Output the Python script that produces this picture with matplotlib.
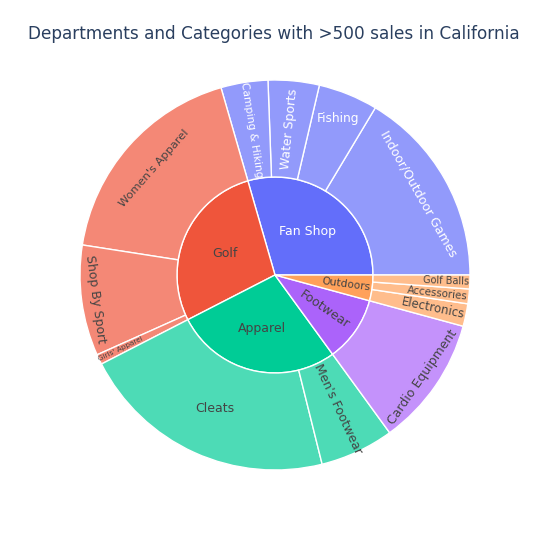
import numpy as np
import matplotlib.pyplot as plt
from matplotlib.colors import to_rgb

# departments (inner ring) and their colours
departments = ["Fan Shop", "Golf", "Apparel", "Footwear", "Outdoors"]
dept_colors = ["#636efa", "#EF553B", "#00cc96", "#ab63fa", "#FFA15A"]

# categories (outer ring), in drawing order (counterclockwise from 3 o'clock)
category_names = ["Indoor/Outdoor Games", "Fishing", "Water Sports", "Camping & Hiking",
                  "Women's Apparel", "Shop By Sport", "Girls' Apparel",
                  "Cleats", "Men's Footwear",
                  "Cardio Equipment",
                  "Electronics", "Accessories", "Golf Balls"]
category_dept = ["Fan Shop", "Fan Shop", "Fan Shop", "Fan Shop",
                 "Golf", "Golf", "Golf",
                 "Apparel", "Apparel",
                 "Footwear",
                 "Outdoors", "Outdoors", "Outdoors"]
category_sales = [10620, 3200, 2740, 2520,
                  11700, 5940, 540,
                  13820, 3960,
                  6970,
                  1210, 790, 740]

dept_sales = [sum(v for v, d in zip(category_sales, category_dept) if d == dep)
              for dep in departments]

# label look: orientation, radius (fraction of outer radius), font size
label_style = {
    "Fan Shop": ("h", 0.28, 9), "Golf": ("h", 0.28, 9), "Apparel": ("h", 0.28, 9),
    "Footwear": ("rad", 0.31, 9), "Outdoors": ("rad", 0.37, 7.6),
    "Indoor/Outdoor Games": ("tan", 0.846, 9), "Fishing": ("h", 0.867, 8.7),
    "Water Sports": ("rad", 0.75, 9), "Camping & Hiking": ("rad", 0.755, 7.7),
    "Women's Apparel": ("tan", 0.825, 8.2), "Shop By Sport": ("tan", 0.93, 9),
    "Girls' Apparel": ("rad", 0.877, 5.2), "Cleats": ("h", 0.75, 9),
    "Men's Footwear": ("rad", 0.76, 9), "Cardio Equipment": ("tan", 0.92, 9),
    "Golf Balls": ("rad", 0.88, 7), "Accessories": ("rad", 0.84, 7.4),
    "Electronics": ("rad", 0.83, 8.5),
}


def lighten(c, a=0.7):
    r = np.array(to_rgb(c))
    return tuple(r * a + (1 - a))


cmap = dict(zip(departments, dept_colors))
leaf_colors = [lighten(cmap[d]) for d in category_dept]
white_text = {"Fan Shop"}

fig = plt.figure(figsize=(5.5, 5.5), dpi=100)
R = 195 / 550
ax = fig.add_axes([0.5 - R, 0.5 - R, 2 * R, 2 * R])
r_in = 98 / 195

ax.pie(dept_sales, radius=r_in, colors=dept_colors, startangle=0,
       wedgeprops=dict(edgecolor="white", linewidth=1))
ax.pie(category_sales, radius=1.0, colors=leaf_colors, startangle=0,
       wedgeprops=dict(width=1 - r_in, edgecolor="white", linewidth=1))
ax.set_xlim(-1, 1)
ax.set_ylim(-1, 1)
ax.axis("off")


def put_labels(names, values, parents):
    total = sum(values)
    cum = np.cumsum([0] + list(values))
    for i, name in enumerate(names):
        mid = 360 * (cum[i] + cum[i + 1]) / 2 / total
        orient, rr, fs = label_style[name]
        if orient == "h":
            rot = 0
        elif orient == "rad":
            rot = mid
        else:
            rot = mid - 90
        rot = (rot + 90) % 180 - 90
        t = np.deg2rad(mid)
        col = "white" if parents[i] in white_text else "#444444"
        ax.text(rr * np.cos(t), rr * np.sin(t), name, rotation=rot,
                rotation_mode="anchor", ha="center", va="center",
                fontsize=fs, color=col)


put_labels(departments, dept_sales, departments)
put_labels(category_names, category_sales, category_dept)

fig.text(27.5 / 550, 1 - 34 / 550, "Departments and Categories with >500 sales in California",
         ha="left", va="center", fontsize=12.2, color="#2a3f5f")

fig.savefig("out.png", dpi=100, facecolor="white")
